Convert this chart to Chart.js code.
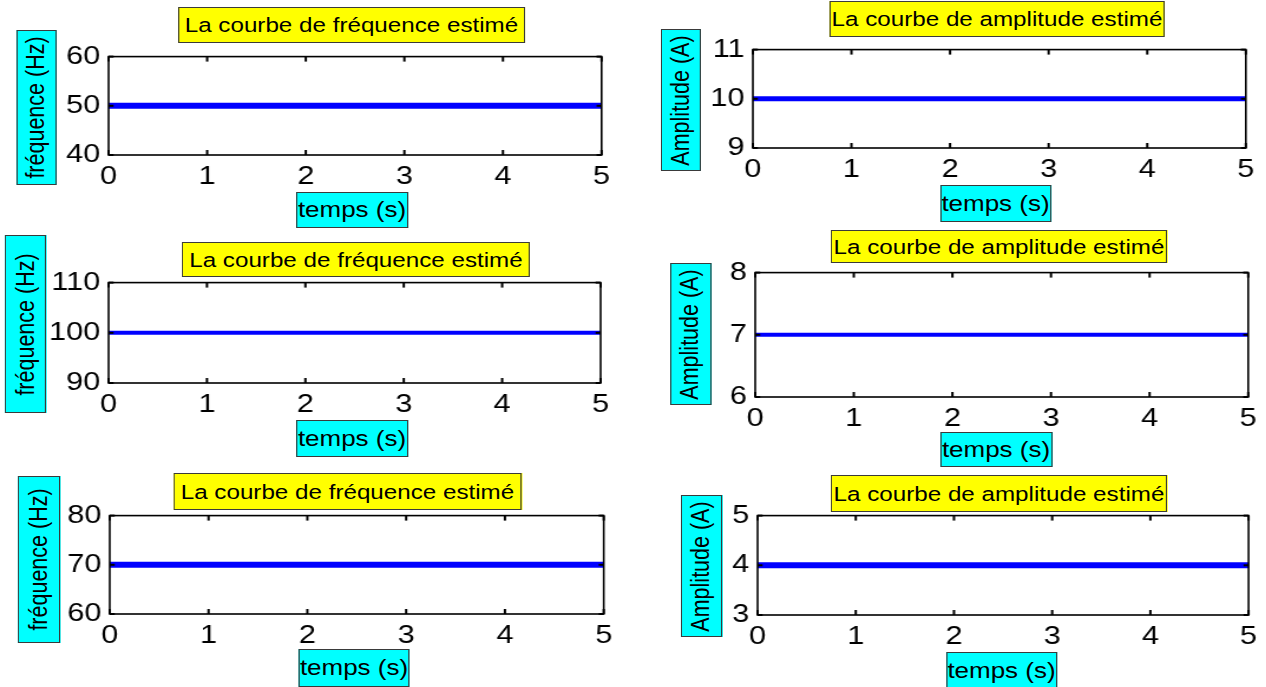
<!DOCTYPE html>
<html>
<head>
<meta charset="utf-8">
<script src="https://cdn.jsdelivr.net/npm/chart.js@4.4.1/dist/chart.umd.min.js"></script>
<style>
  html, body { margin: 0; padding: 0; background: #fff; overflow: hidden; }
  #stage { position: absolute; left: 0; top: 0; height: 687px; transform-origin: 0 0; }
  canvas { position: absolute; }
  .lbl { position: absolute; box-sizing: border-box; border: 1px solid #3a3a3a;
         display: flex; align-items: center; justify-content: center;
         font-family: "Liberation Sans", Arial, sans-serif; color: #000; white-space: nowrap; }
  .lbl.title { background: #ffff00; font-size: 20.5px; }
  .lbl.axis { background: #00ffff; font-size: 22px; }
  .lbl.rot { font-size: 21.5px; }
  .lbl.rot span { transform: rotate(-90deg); display: inline-block; }
</style>
</head>
<body>
<div id="stage"></div>
<script>
// ---------------- data ----------------
const timeS = [0, 0.5, 1, 1.5, 2, 2.5, 3, 3.5, 4, 4.5, 5];
const freqEst1 = [50, 50, 50, 50, 50, 50, 50, 50, 50, 50, 50];
const ampEst1  = [10, 10, 10, 10, 10, 10, 10, 10, 10, 10, 10];
const freqEst2 = [100, 100, 100, 100, 100, 100, 100, 100, 100, 100, 100];
const ampEst2  = [7, 7, 7, 7, 7, 7, 7, 7, 7, 7, 7];
const freqEst3 = [70, 70, 70, 70, 70, 70, 70, 70, 70, 70, 70];
const ampEst3  = [4, 4, 4, 4, 4, 4, 4, 4, 4, 4, 4];

const xTickLabels = [0, 1, 2, 3, 4, 5];
const yTicksFreq1 = [40, 50, 60];
const yTicksAmp1  = [9, 10, 11];
const yTicksFreq2 = [90, 100, 110];
const yTicksAmp2  = [6, 7, 8];
const yTicksFreq3 = [60, 70, 80];
const yTicksAmp3  = [3, 4, 5];

const titleFreq = "La courbe de fréquence estimé";
const titleAmp  = "La courbe de amplitude estimé";
const yLabelFreq = "fréquence (Hz)";
const yLabelAmp  = "Amplitude (A)";
const xLabelTime = "temps (s)";

// ---------------- layout (real pixels) ----------------
const S = 1.18; // horizontal stretch of the original picture
const panels = [
  { values: freqEst1, yTicks: yTicksFreq1, title: titleFreq, ylab: yLabelFreq },
  { values: ampEst1,  yTicks: yTicksAmp1,  title: titleAmp,  ylab: yLabelAmp },
  { values: freqEst2, yTicks: yTicksFreq2, title: titleFreq, ylab: yLabelFreq },
  { values: ampEst2,  yTicks: yTicksAmp2,  title: titleAmp,  ylab: yLabelAmp },
  { values: freqEst3, yTicks: yTicksFreq3, title: titleFreq, ylab: yLabelFreq },
  { values: ampEst3,  yTicks: yTicksAmp3,  title: titleAmp,  ylab: yLabelAmp },
];
const boxes = [
  { plot: [108, 54, 601, 155],  title: [178, 7, 525, 43],    ylab: [16, 30, 57, 185],   xlab: [296, 192, 408, 228], lw: 6 },
  { plot: [753, 47, 1246, 148], title: [829, 1, 1165, 37],   ylab: [661, 29, 701, 171], xlab: [940, 185, 1051, 222], lw: 5 },
  { plot: [108, 280, 600, 383], title: [182, 242, 530, 277], ylab: [5, 235, 46, 413],   xlab: [296, 420, 408, 457], lw: 4 },
  { plot: [755, 270, 1248, 397],title: [831, 230, 1167, 263],ylab: [670, 263, 711, 405],xlab: [940, 432, 1052, 467], lw: 4 },
  { plot: [110, 513, 604, 614], title: [174, 473, 521, 510], ylab: [18, 476, 60, 643],  xlab: [298, 649, 410, 687], lw: 6 },
  { plot: [757, 513, 1248, 615],title: [831, 475, 1167, 512],ylab: [681, 495, 722, 637],xlab: [946, 652, 1057, 689], lw: 6 },
];

const stage = document.getElementById('stage');
stage.style.width = (1266 / S) + 'px';
stage.style.transform = 'scaleX(' + S + ')';

function addLabel(cls, rect, text, rotate) {
  const d = document.createElement('div');
  d.className = 'lbl ' + cls + (rotate ? ' rot' : '');
  d.style.left = (rect[0] / S) + 'px';
  d.style.width = ((rect[2] - rect[0]) / S) + 'px';
  d.style.top = rect[1] + 'px';
  d.style.height = (rect[3] - rect[1]) + 'px';
  const s = document.createElement('span');
  s.textContent = text;
  d.appendChild(s);
  stage.appendChild(d);
}

const matlabBox = {
  id: 'matlabBox',
  afterDatasetsDraw(chart) {
    const { ctx, chartArea: a } = chart;
    const x = chart.scales.x, y = chart.scales.y;
    ctx.save();
    ctx.strokeStyle = '#000';
    ctx.lineWidth = 1.6;
    ctx.strokeRect(a.left, a.top, a.right - a.left, a.bottom - a.top);
    const seg = (x1, y1, x2, y2) => { ctx.beginPath(); ctx.moveTo(x1, y1); ctx.lineTo(x2, y2); ctx.stroke(); };
    ctx.lineWidth = 2;
    x.ticks.forEach(t => {
      const px = x.getPixelForValue(t.value);
      seg(px, a.top, px, a.top + 5);
      seg(px, a.bottom, px, a.bottom - 5);
    });
    y.ticks.forEach(t => {
      const py = y.getPixelForValue(t.value);
      seg(a.left, py, a.left + 5 / S, py);
      seg(a.right, py, a.right - 5 / S, py);
    });
    ctx.restore();
  }
};

const padL = 75, padT = 20, padR = 25, padB = 45;

panels.forEach((p, i) => {
  const b = boxes[i];
  const [L, T, R, B] = b.plot;
  const cw = (R - L) / S + padL + padR;
  const ch = (B - T) + padT + padB;
  const c = document.createElement('canvas');
  c.width = Math.round(cw); c.height = ch;
  c.style.width = Math.round(cw) + 'px'; c.style.height = ch + 'px';
  c.style.left = (L / S - padL) + 'px';
  c.style.top = (T - padT) + 'px';
  stage.appendChild(c);
  const rightPad = Math.round(cw) - padL - (R - L) / S;

  new Chart(c.getContext('2d'), {
    type: 'line',
    data: {
      datasets: [{
        data: timeS.map((t, k) => ({ x: t, y: p.values[k] })),
        borderColor: '#0000ff',
        borderWidth: b.lw,
        borderCapStyle: 'butt',
        pointRadius: 0,
        tension: 0,
        fill: false
      }]
    },
    options: {
      responsive: false,
      animation: false,
      devicePixelRatio: 1,
      layout: { padding: { left: 0, top: padT, right: rightPad, bottom: 0 } },
      plugins: { legend: { display: false }, tooltip: { enabled: false }, title: { display: false } },
      scales: {
        x: {
          type: 'linear',
          min: xTickLabels[0], max: xTickLabels[xTickLabels.length - 1],
          afterBuildTicks: s => { s.ticks = xTickLabels.map(v => ({ value: v })); },
          afterFit: s => { s.height = padB; },
          grid: { display: false, drawTicks: false },
          border: { display: false },
          ticks: { color: '#000', padding: 6, maxRotation: 0, autoSkip: false,
                   font: { family: 'Liberation Sans', size: 26 } }
        },
        y: {
          type: 'linear',
          min: p.yTicks[0], max: p.yTicks[p.yTicks.length - 1],
          afterBuildTicks: s => { s.ticks = p.yTicks.map(v => ({ value: v })); },
          afterFit: s => { s.width = padL; },
          grid: { display: false, drawTicks: false },
          border: { display: false },
          ticks: { color: '#000', padding: 7, autoSkip: false,
                   font: { family: 'Liberation Sans', size: 26 } }
        }
      }
    },
    plugins: [matlabBox]
  });

  addLabel('title', b.title, p.title, false);
  addLabel('axis', b.ylab, p.ylab, true);
  addLabel('axis', b.xlab, xLabelTime, false);
});
</script>
</body>
</html>
